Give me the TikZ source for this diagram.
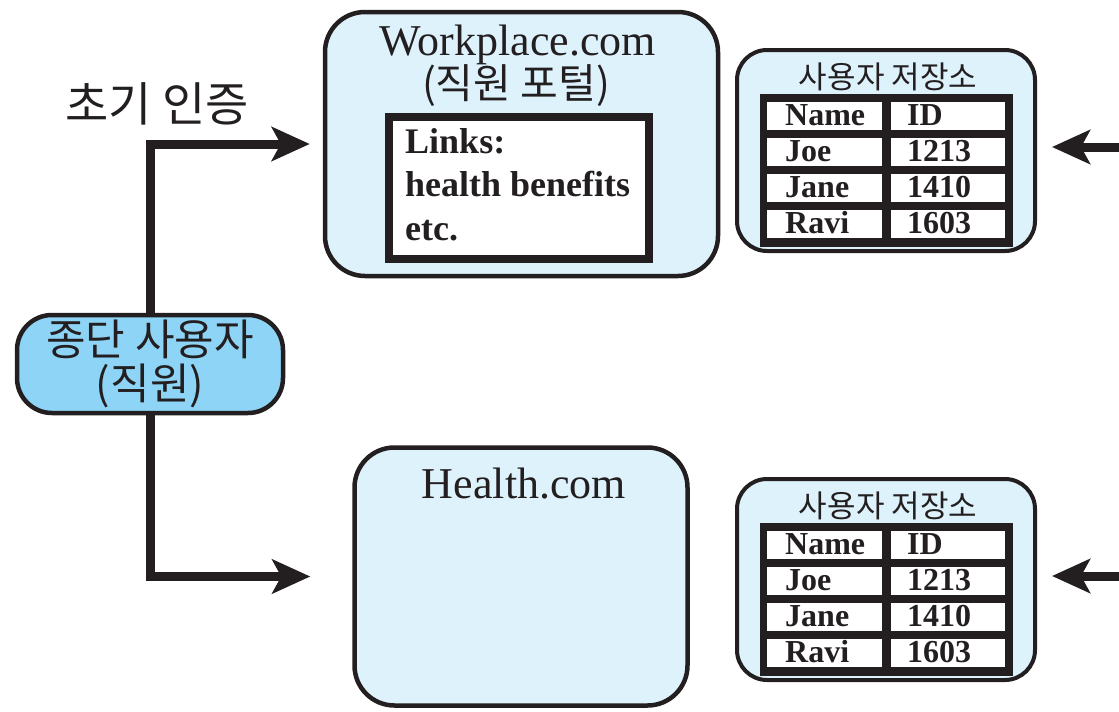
\documentclass[tikz,border=0pt]{standalone}
\usepackage{fontspec}
\setmainfont{Liberation Serif}
\newfontfamily\kr{Noto Sans CJK KR}
\usetikzlibrary{arrows.meta}
\definecolor{lb}{HTML}{DEF2FC}
\definecolor{eub}{HTML}{8DD4F6}
\definecolor{ink}{HTML}{231F20}
\tikzset{
  site/.style={draw=ink,line width=4.5pt,fill=lb,rounded corners=40pt,inner sep=0pt},
  store/.style={draw=ink,line width=4pt,fill=lb,rounded corners=30pt,inner sep=0pt},
  user/.style={draw=ink,line width=4.5pt,fill=eub,rounded corners=35pt,inner sep=0pt,
    align=center,font=\kr\fontsize{43}{44}\selectfont,text=ink},
  linkbox/.style={draw=ink,line width=8pt,fill=white,inner sep=0pt},
  tbl/.style={fill=ink,inner sep=0pt},
  cell/.style={fill=white,inner sep=0pt,minimum height=28pt},
  celltext/.style={anchor=base west,inner sep=0pt,text=ink,font=\bfseries\fontsize{32}{36}\selectfont},
  sitetitle/.style={anchor=base,inner sep=0pt,text=ink,font=\fontsize{44}{48}\selectfont},
  krtext/.style={inner sep=0pt,text=ink,font=\kr\fontsize{41}{44}\selectfont},
  linktext/.style={anchor=base west,inner sep=0pt,text=ink,font=\bfseries\fontsize{36}{43}\selectfont},
  conn/.style={draw=ink,line width=9pt,-{Stealth[length=38pt,width=34pt,inset=9pt]}},
}
\newcommand\ustore[2]{%
  \begin{scope}[yshift=-#2pt]
    \node[store,minimum width=298pt,minimum height=201pt] (#1box) at (886,150.5) {};
    \node[krtext,font=\kr\fontsize{31}{34}\selectfont] (#1title) at (888,77) {사용자 저장소};
    \node[tbl,minimum width=253pt,minimum height=153pt] (#1tbl) at (886.5,170.5) {};
    \foreach \r/\n/\i in {0/Name/ID,1/Joe/1213,2/Jane/1410,3/Ravi/1603}{
      \node[cell,minimum width=115pt] (#1a\r) at (824.5,116+36*\r) {};
      \node[cell,minimum width=114pt] (#1b\r) at (948,116+36*\r) {};
      \node[celltext] (#1an\r) at (785,125+36*\r) {\n};
      \node[celltext] (#1bn\r) at (907,125+36*\r) {\i};
    }
    \coordinate (#1in) at (1125,147);
    \draw[conn,shorten >=15pt] (#1in) -- (#1in -| #1box.east);
  \end{scope}}
\begin{document}
\begin{tikzpicture}[x=1pt,y=-1pt]
  \useasboundingbox (0,0) rectangle (1119,712);
  % Workplace.com
  \node[site,minimum width=393pt,minimum height=264pt] (wp) at (521.5,144) {};
  \node[sitetitle] (wptitle) at (518,55) {Workplace.com};
  \node[krtext] (wpsub) at (516,86) {(직원 포털)};
  \node[linkbox,minimum width=260pt,minimum height=142pt] (links) at (519,188) {};
  \node[linktext] (l1) at (405,153) {Links:};
  \node[linktext] (l2) at (405,196) {health benefits};
  \node[linktext] (l3) at (405,240) {etc.};
  % Health.com
  \node[site,minimum width=333pt,minimum height=258pt] (hc) at (521,576.5) {};
  \node[sitetitle] (hctitle) at (524,498) {Health.com};
  % user stores
  \ustore{s1}{0}
  \ustore{s2}{429}
  % end user
  \node[user,minimum width=266pt,minimum height=98pt] (eu) at (150,364) {종단 사용자\\(직원)};
  \node[krtext,font=\kr\fontsize{47}{50}\selectfont] (auth) at (157,104) {초기 인증};
  % connectors
  \draw[conn,shorten >=13pt] (eu.north) |- (wp.west);
  \draw[conn,shorten >=42pt] (eu.south) |- (hc.west);
\end{tikzpicture}
\end{document}
